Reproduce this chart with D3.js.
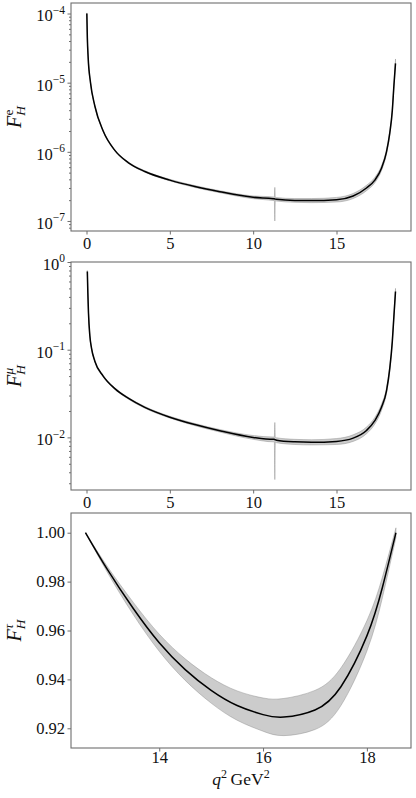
<!DOCTYPE html>
<html>
<head>
<meta charset="utf-8">
<script src="https://cdn.jsdelivr.net/npm/d3@7"></script>
<style>
  body { margin: 0; background: #fff; }
  text { font-family: 'Liberation Serif', 'DejaVu Serif', serif; }
</style>
</head>
<body>
<svg id="chart"></svg>
<script>
/// data ////////////////////////////////
// electron panel
const q2E = [0.02, 0.05, 0.1, 0.24, 0.5, 1.0, 1.7, 2.5, 3.5, 5, 6.5, 8, 10, 11.2, 11.27, 11.3, 11.33, 11.4,
  12.5, 13.5, 15, 16, 16.8, 17.3, 17.7, 18.0, 18.2, 18.35, 18.45, 18.54]
const fhE = [1.0e-4, 4.5e-5, 2.3e-5, 1.0e-5, 4.6e-6, 2.0e-6, 1.05e-6, 7.0e-7, 5.2e-7, 3.9e-7, 3.15e-7, 2.65e-7,
  2.2e-7, 2.1e-7, 2.09e-7, 2.08e-7, 2.07e-7, 2.06e-7, 1.98e-7, 1.97e-7, 2.03e-7, 2.3e-7, 3.0e-7, 3.9e-7,
  5.8e-7, 1.0e-6, 1.9e-6, 4.0e-6, 9.5e-6, 1.9e-5]
const fhELow = [0.98e-4, 4.41e-5, 2.25e-5, 0.98e-5, 4.5e-6, 1.96e-6, 1.03e-6, 6.85e-7, 5.08e-7, 3.8e-7, 3.05e-7,
  2.56e-7, 2.1e-7, 1.98e-7, 1.97e-7, 1.0e-7, 1.95e-7, 1.94e-7, 1.86e-7, 1.84e-7, 1.88e-7, 2.11e-7, 2.74e-7,
  3.57e-7, 5.35e-7, 0.93e-6, 1.78e-6, 3.75e-6, 8.9e-6, 1.75e-5]
const fhEHigh = [1.02e-4, 4.59e-5, 2.35e-5, 1.02e-5, 4.7e-6, 2.04e-6, 1.07e-6, 7.15e-7, 5.33e-7, 4.0e-7, 3.25e-7,
  2.74e-7, 2.3e-7, 2.23e-7, 2.22e-7, 3.06e-7, 2.2e-7, 2.18e-7, 2.11e-7, 2.11e-7, 2.19e-7, 2.5e-7, 3.28e-7,
  4.27e-7, 6.3e-7, 1.08e-6, 2.03e-6, 4.25e-6, 1.02e-5, 2.2e-5]

// muon panel
const q2Mu = [0.05, 0.08, 0.12, 0.2, 0.3, 0.5, 1.0, 1.7, 2.5, 3.5, 5, 6.5, 8, 10, 11.2, 11.27, 11.3, 11.33, 11.4,
  12.5, 13.5, 15, 16, 16.8, 17.3, 17.7, 18.0, 18.2, 18.35, 18.45, 18.54]
const fhMu = [0.78, 0.45, 0.26, 0.145, 0.104, 0.074, 0.050, 0.036, 0.028, 0.022, 0.0170, 0.0140, 0.0119, 0.0100,
  0.0095, 0.0095, 0.0094, 0.0094, 0.0093, 0.0089, 0.0088, 0.0090, 0.0098, 0.0120, 0.0155, 0.022, 0.034, 0.062,
  0.125, 0.25, 0.46]
const fhMuLow = [0.76, 0.44, 0.254, 0.142, 0.102, 0.0725, 0.049, 0.0353, 0.0274, 0.0215, 0.0166, 0.0136, 0.0115,
  0.0095, 0.0089, 0.0089, 0.0033, 0.0088, 0.0087, 0.0083, 0.0082, 0.0083, 0.0090, 0.0110, 0.0142, 0.0203,
  0.0318, 0.058, 0.118, 0.237, 0.43]
const fhMuHigh = [0.80, 0.46, 0.266, 0.148, 0.106, 0.0755, 0.051, 0.0367, 0.0286, 0.0225, 0.0174, 0.0144, 0.0123,
  0.0105, 0.0101, 0.0101, 0.0148, 0.0100, 0.0099, 0.0095, 0.0094, 0.0097, 0.0107, 0.0131, 0.0169, 0.0239,
  0.0365, 0.066, 0.133, 0.265, 0.50]

// tau panel
const q2Tau = [12.58, 13.0, 13.5, 14.0, 14.5, 15.0, 15.5, 16.0, 16.4, 17.0, 17.5, 18.0, 18.3, 18.56]
const fhTau = [1.000, 0.9850, 0.9690, 0.9550, 0.9440, 0.9355, 0.9293, 0.9256, 0.9246, 0.9275, 0.9370, 0.9578, 0.9777, 1.000]
const fhTauLow = [1.000, 0.9838, 0.9665, 0.9515, 0.9396, 0.9303, 0.9233, 0.9188, 0.9170, 0.9195, 0.9293, 0.9516, 0.9735, 0.998]
const fhTauHigh = [1.000, 0.9862, 0.9715, 0.9585, 0.9484, 0.9407, 0.9353, 0.9324, 0.9322, 0.9355, 0.9447, 0.9640, 0.9819, 1.002]

/// ticks ////////////////////////////////
const xTicksLight = [0, 5, 10, 15]
const xTicksTau = [14, 16, 18]
const eDecades = [1e-7, 1e-6, 1e-5, 1e-4]
const muDecades = [1e-2, 1e-1, 1e0]
const tauTicks = [0.92, 0.94, 0.96, 0.98, 1.00]

/// layout ////////////////////////////////
const width = 416
const height = 798
const left = 71
const right = 411

const svg = d3.select('#chart').attr('width', width).attr('height', height)

const bandColor = '#808080'
const frameColor = '#6e6e6e'
const textColor = '#111'

function zip(xs, c, lo, hi) {
  return xs.map((q, i) => ({ q: q, c: c[i], lo: lo[i], hi: hi[i] }))
}

function minorTicks(domain) {
  const out = []
  const lo = Math.floor(Math.log10(domain[0]))
  const hi = Math.ceil(Math.log10(domain[1]))
  for (let e = lo; e <= hi; e++) {
    for (let m = 2; m <= 9; m++) {
      const v = m * Math.pow(10, e)
      if (v >= domain[0] && v <= domain[1]) out.push(v)
    }
  }
  return out
}

function drawPanel(opts) {
  const g = svg.append('g')
  const { xScale, yScale, data, top, bottom, curve } = opts

  // band
  g.append('path')
    .datum(data)
    .attr('d', d3.area()
      .x(d => xScale(d.q))
      .y0(d => yScale(d.lo))
      .y1(d => yScale(d.hi))
      .curve(curve))
    .attr('fill', bandColor)
    .attr('fill-opacity', 0.4)
    .attr('stroke', bandColor)
    .attr('stroke-opacity', 0.4)
    .attr('stroke-width', 1)

  // central line
  g.append('path')
    .datum(data)
    .attr('d', d3.line()
      .x(d => xScale(d.q))
      .y(d => yScale(d.c))
      .curve(curve))
    .attr('fill', 'none')
    .attr('stroke', '#000')
    .attr('stroke-width', 1.5)

  // x axis
  const xAxis = g.append('g')
    .attr('transform', 'translate(0,' + bottom + ')')
    .style('color', frameColor)
    .call(d3.axisBottom(xScale).tickValues(opts.xTicks).tickSize(3.5)
      .tickPadding(opts.xPad).tickFormat(d3.format('d')))
  xAxis.select('.domain').remove()
  xAxis.selectAll('.tick text')
    .attr('fill', textColor)
    .attr('font-size', 16.5)

  // y axis
  if (opts.log) {
    const minor = g.append('g')
      .attr('transform', 'translate(' + left + ',0)')
      .style('color', frameColor)
      .call(d3.axisLeft(yScale).tickValues(minorTicks(yScale.domain())).tickSize(2).tickFormat(''))
    minor.select('.domain').remove()

    const yAxis = g.append('g')
      .attr('transform', 'translate(' + left + ',0)')
      .style('color', frameColor)
      .call(d3.axisLeft(yScale).tickValues(opts.yTicks).tickSize(3.5).tickPadding(2.5).tickFormat(''))
    yAxis.select('.domain').remove()
    yAxis.selectAll('.tick text')
      .attr('fill', textColor)
      .attr('font-size', 16.5)
      .attr('dy', '0.45em')
      .each(function(d) {
        const t = d3.select(this)
        const e = Math.round(Math.log10(d))
        t.append('tspan').text('10')
        t.append('tspan')
          .attr('dy', -7.5)
          .attr('font-size', 11.5)
          .text(e < 0 ? '\u2212' + (-e) : String(e))
      })
  } else {
    const yAxis = g.append('g')
      .attr('transform', 'translate(' + left + ',0)')
      .style('color', frameColor)
      .call(d3.axisLeft(yScale).tickValues(opts.yTicks).tickSize(3.5).tickPadding(2.5).tickFormat(d3.format('.2f')))
    yAxis.select('.domain').remove()
    yAxis.selectAll('.tick text')
      .attr('fill', textColor)
      .attr('font-size', 16.5)
  }

  // frame
  g.append('rect')
    .attr('x', left)
    .attr('y', top)
    .attr('width', right - left)
    .attr('height', bottom - top)
    .attr('fill', 'none')
    .attr('stroke', frameColor)
    .attr('stroke-width', 1.1)

  // y label  F_H^l
  const label = g.append('text')
    .attr('transform', 'translate(21,' + ((top + bottom) / 2) + ') rotate(-90)')
    .attr('text-anchor', 'middle')
    .attr('fill', textColor)
    .attr('font-size', 20)
  label.append('tspan').attr('font-style', 'italic').text('F')
  label.append('tspan').attr('font-style', 'italic').attr('font-size', 13.5).attr('dy', 4).text('H')
  label.append('tspan').attr('font-size', 13.5).attr('dx', -9.5).attr('dy', -12)
    .attr('font-style', opts.supItalic ? 'italic' : 'normal').text(opts.sup)
}

/// scales ////////////////////////////////
const xLight = d3.scaleLinear().domain([-0.93, 19.47]).range([left, right])
const xTau = d3.scaleLinear().domain([12.30, 18.85]).range([left, right])

const yE = d3.scaleLog().domain([Math.pow(10, -7.145), Math.pow(10, -3.848)]).range([231, 3])
const yMu = d3.scaleLog().domain([Math.pow(10, -2.60), 1]).range([490, 262])
const yTau = d3.scaleLinear().domain([0.91194, 1.00806]).range([748, 513])

drawPanel({
  xScale: xLight, yScale: yE, top: 3, bottom: 231, xPad: 3, curve: d3.curveMonotoneX,
  data: zip(q2E, fhE, fhELow, fhEHigh),
  xTicks: xTicksLight, yTicks: eDecades, log: true, sup: 'e', supItalic: false
})

drawPanel({
  xScale: xLight, yScale: yMu, top: 262, bottom: 490, xPad: 3, curve: d3.curveMonotoneX,
  data: zip(q2Mu, fhMu, fhMuLow, fhMuHigh),
  xTicks: xTicksLight, yTicks: muDecades, log: true, sup: '\u03bc', supItalic: true
})

drawPanel({
  xScale: xTau, yScale: yTau, top: 513, bottom: 748, xPad: 0, curve: d3.curveNatural,
  data: zip(q2Tau, fhTau, fhTauLow, fhTauHigh),
  xTicks: xTicksTau, yTicks: tauTicks, log: false, sup: '\u03c4', supItalic: true
})

// x axis title  q^2 GeV^2
const xTitle = svg.append('text')
  .attr('x', (left + right) / 2)
  .attr('y', 785)
  .attr('text-anchor', 'middle')
  .attr('fill', textColor)
  .attr('font-size', 17.5)
xTitle.append('tspan').attr('font-style', 'italic').text('q')
xTitle.append('tspan').attr('font-size', 12).attr('dy', -7).text('2')
xTitle.append('tspan').attr('dy', 7).text('\u2009GeV')
xTitle.append('tspan').attr('font-size', 12).attr('dy', -7).text('2')
</script>
</body>
</html>
